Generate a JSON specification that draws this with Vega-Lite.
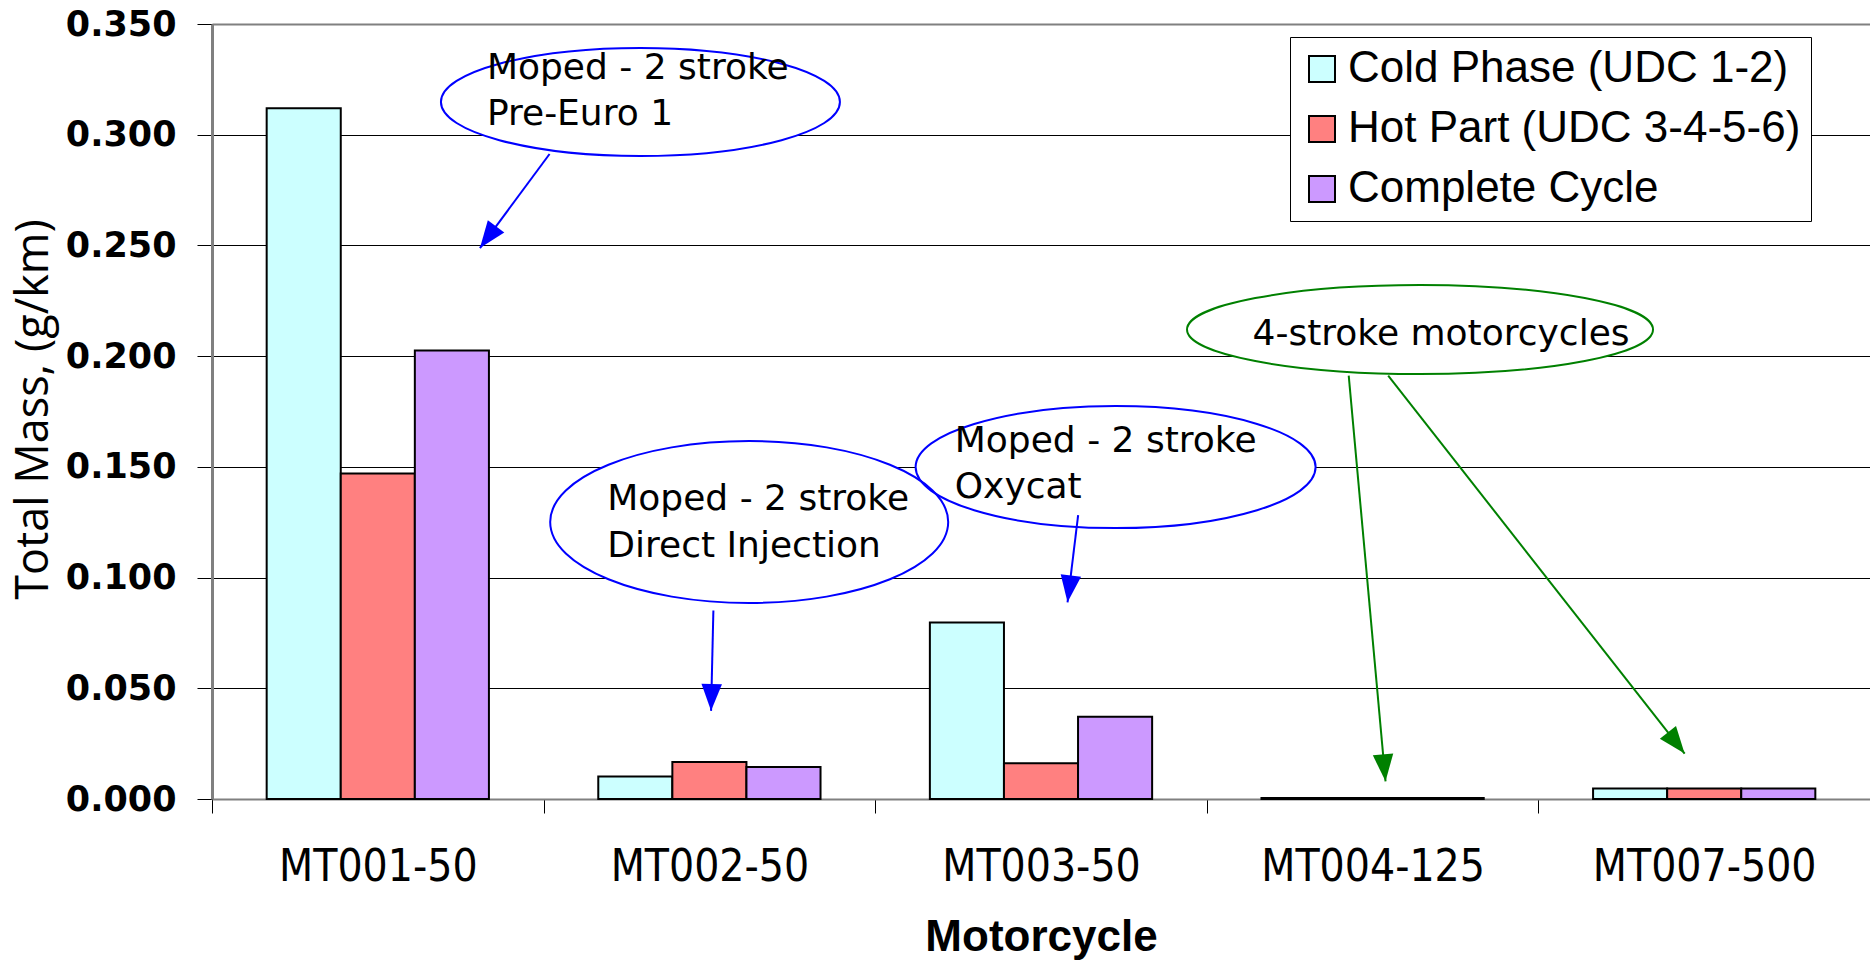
{
  "$schema": "https://vega.github.io/schema/vega-lite/v6.json",
  "width": 1658,
  "height": 775,
  "autosize": {"type": "none"},
  "padding": {"left": 212, "top": 24, "right": 0, "bottom": 166},
  "background": "white",
  "config": {"view": {"stroke": null}},
  "datasets": {
    "emissions": [
      {"motorcycle": "MT001-50", "phase": "Cold Phase (UDC 1-2)", "mass": 0.312},
      {"motorcycle": "MT001-50", "phase": "Hot Part (UDC 3-4-5-6)", "mass": 0.147},
      {"motorcycle": "MT001-50", "phase": "Complete Cycle", "mass": 0.2025},
      {"motorcycle": "MT002-50", "phase": "Cold Phase (UDC 1-2)", "mass": 0.0102},
      {"motorcycle": "MT002-50", "phase": "Hot Part (UDC 3-4-5-6)", "mass": 0.0167},
      {"motorcycle": "MT002-50", "phase": "Complete Cycle", "mass": 0.0145},
      {"motorcycle": "MT003-50", "phase": "Cold Phase (UDC 1-2)", "mass": 0.0797},
      {"motorcycle": "MT003-50", "phase": "Hot Part (UDC 3-4-5-6)", "mass": 0.0161},
      {"motorcycle": "MT003-50", "phase": "Complete Cycle", "mass": 0.0371},
      {"motorcycle": "MT004-125", "phase": "Cold Phase (UDC 1-2)", "mass": 0.0004},
      {"motorcycle": "MT004-125", "phase": "Hot Part (UDC 3-4-5-6)", "mass": 0.0004},
      {"motorcycle": "MT004-125", "phase": "Complete Cycle", "mass": 0.0004},
      {"motorcycle": "MT007-500", "phase": "Cold Phase (UDC 1-2)", "mass": 0.0047},
      {"motorcycle": "MT007-500", "phase": "Hot Part (UDC 3-4-5-6)", "mass": 0.0047},
      {"motorcycle": "MT007-500", "phase": "Complete Cycle", "mass": 0.0047}
    ],
    "callouts": [
      {"id": "pre-euro", "u": 1.292, "v": 0.3148},
      {"id": "direct-injection", "u": 1.62, "v": 0.1251},
      {"id": "oxycat", "u": 2.725, "v": 0.1499},
      {"id": "four-stroke", "u": 3.643, "v": 0.212}
    ],
    "arrows": [
      {"id": "A1", "kind": "moped", "u": 1.018, "v": 0.2913, "u2": 0.808, "v2": 0.2488},
      {"id": "A2", "kind": "moped", "u": 1.512, "v": 0.0851, "u2": 1.505, "v2": 0.0398},
      {"id": "A3", "kind": "moped", "u": 2.612, "v": 0.1282, "u2": 2.58, "v2": 0.0888},
      {"id": "A4", "kind": "motorcycle", "u": 3.428, "v": 0.1912, "u2": 3.539, "v2": 0.008},
      {"id": "A5", "kind": "motorcycle", "u": 3.547, "v": 0.1912, "u2": 4.441, "v2": 0.0205}
    ],
    "captions": [
      {"u": 0.829, "v": 0.3252, "line": "Moped - 2 stroke"},
      {"u": 0.829, "v": 0.3044, "line": "Pre-Euro 1"},
      {"u": 1.192, "v": 0.1305, "line": "Moped - 2 stroke"},
      {"u": 1.192, "v": 0.1093, "line": "Direct Injection"},
      {"u": 2.24, "v": 0.1567, "line": "Moped - 2 stroke"},
      {"u": 2.24, "v": 0.1359, "line": "Oxycat"},
      {"u": 3.138, "v": 0.205, "line": "4-stroke motorcycles"}
    ]
  },
  "layer": [
    {
      "data": {"name": "emissions"},
      "mark": {"type": "bar", "stroke": "black", "strokeWidth": 2},
      "encoding": {
        "x": {
          "field": "motorcycle", "type": "nominal", "sort": null,
          "scale": {"paddingInner": 0, "paddingOuter": 0},
          "axis": {
            "title": "Motorcycle", "titleFont": "Liberation Sans", "titleFontSize": 44,
            "titleFontWeight": "bold", "titleColor": "black", "titleY": 151, "titleBaseline": "alphabetic",
            "labelFont": "Liberation Sans Narrow, DejaVu Sans Condensed, sans-serif", "labelFontSize": 44,
            "labelFontWeight": "normal",
            "labelColor": "black", "labelAngle": 0, "labelBaseline": "alphabetic", "labelPadding": 67,
            "labelLimit": 400,
            "tickBand": "extent", "tickSize": 14, "tickColor": "black", "tickWidth": 1,
            "domainColor": "#808080", "domainWidth": 2, "grid": false
          }
        },
        "xOffset": {
          "field": "phase", "type": "nominal",
          "scale": {"domain": ["Cold Phase (UDC 1-2)", "Hot Part (UDC 3-4-5-6)", "Complete Cycle"], "paddingInner": 0, "paddingOuter": 0.738}
        },
        "y": {
          "field": "mass", "type": "quantitative",
          "scale": {"domain": [0, 0.35], "nice": false},
          "axis": {
            "values": [0, 0.05, 0.1, 0.15, 0.2, 0.25, 0.3, 0.35], "format": ".3f",
            "labelFont": "DejaVu Sans", "labelFontSize": 35, "labelFontWeight": "bold", "labelColor": "black", "labelPadding": 21,
            "tickSize": 15, "tickColor": "black", "tickWidth": 1,
            "domainColor": "#808080", "domainWidth": 3,
            "grid": true,
            "gridColor": {"condition": {"test": "datum.value > 0.34", "value": "#808080"}, "value": "black"},
            "gridWidth": {"condition": {"test": "datum.value > 0.34", "value": 2}, "value": 1},
            "title": "Total Mass, (g/km)", "titleFont": "Open Sans", "titleFontSize": 45,
            "titleFontWeight": "normal", "titleColor": "black", "titleAngle": -90,
            "titleX": -165, "titleY": 385, "titleAlign": "center", "titleBaseline": "alphabetic"
          }
        },
        "fill": {
          "field": "phase", "type": "nominal",
          "scale": {
            "domain": ["Cold Phase (UDC 1-2)", "Hot Part (UDC 3-4-5-6)", "Complete Cycle"],
            "range": ["#CCFFFF", "#FF8080", "#CC99FF"]
          },
          "legend": {
            "orient": "none", "legendX": 1078, "legendY": 13, "title": null,
            "fillColor": "white", "strokeColor": "black", "padding": 10,
            "symbolType": "square", "symbolSize": 676, "symbolStrokeColor": "black", "symbolStrokeWidth": 2,
            "symbolOpacity": 1,
            "labelFont": "Liberation Sans", "labelFontSize": 44, "labelColor": "black",
            "labelOffset": 4, "rowPadding": 16, "labelLimit": 700
          }
        }
      }
    },
    {
      "encoding": {
        "x": {"field": "u", "type": "quantitative", "scale": {"domain": [0, 5], "nice": false, "zero": false}, "axis": null},
        "y": {"field": "v", "type": "quantitative", "scale": {"domain": [0, 0.35], "nice": false}, "axis": null}
      },
      "layer": [
        {
          "data": {"name": "callouts"},
          "transform": [{"filter": "datum.id === 'pre-euro'"}],
          "mark": {"type": "point", "filled": true, "fill": "white", "opacity": 1, "size": 159201,
            "shape": "M1,0 C1,0.1497 0.5523,0.271 0,0.271 C-0.5523,0.271 -1,0.1497 -1,0 C-1,-0.1497 -0.5523,-0.271 0,-0.271 C0.5523,-0.271 1,-0.1497 1,0 Z"}
        },
        {
          "data": {"name": "callouts"},
          "transform": [{"filter": "datum.id === 'direct-injection'"}],
          "mark": {"type": "point", "filled": true, "fill": "white", "opacity": 1, "size": 158404,
            "shape": "M1,0 C1,0.2248 0.5523,0.407 0,0.407 C-0.5523,0.407 -1,0.2248 -1,0 C-1,-0.2248 -0.5523,-0.407 0,-0.407 C0.5523,-0.407 1,-0.2248 1,0 Z"}
        },
        {
          "data": {"name": "callouts"},
          "transform": [{"filter": "datum.id === 'oxycat'"}],
          "mark": {"type": "point", "filled": true, "fill": "white", "opacity": 1, "size": 160000,
            "shape": "M1,0 C1,0.1684 0.5523,0.305 0,0.305 C-0.5523,0.305 -1,0.1684 -1,0 C-1,-0.1684 -0.5523,-0.305 0,-0.305 C0.5523,-0.305 1,-0.1684 1,0 Z"}
        },
        {
          "data": {"name": "callouts"},
          "transform": [{"filter": "datum.id === 'four-stroke'"}],
          "mark": {"type": "point", "filled": true, "fill": "white", "opacity": 1, "size": 217156,
            "shape": "M1,0 C1,0.1055 0.5523,0.191 0,0.191 C-0.5523,0.191 -1,0.1055 -1,0 C-1,-0.1055 -0.5523,-0.191 0,-0.191 C0.5523,-0.191 1,-0.1055 1,0 Z"}
        },
        {
          "data": {"name": "callouts"},
          "transform": [{"filter": "datum.id === 'pre-euro'"}],
          "mark": {"type": "point", "filled": false, "stroke": "#0000FF", "strokeWidth": 2, "opacity": 1, "size": 159201,
            "shape": "M1,0 C1,0.1497 0.5523,0.271 0,0.271 C-0.5523,0.271 -1,0.1497 -1,0 C-1,-0.1497 -0.5523,-0.271 0,-0.271 C0.5523,-0.271 1,-0.1497 1,0 Z"}
        },
        {
          "data": {"name": "callouts"},
          "transform": [{"filter": "datum.id === 'direct-injection'"}],
          "mark": {"type": "point", "filled": false, "stroke": "#0000FF", "strokeWidth": 2, "opacity": 1, "size": 158404,
            "shape": "M1,0 C1,0.2248 0.5523,0.407 0,0.407 C-0.5523,0.407 -1,0.2248 -1,0 C-1,-0.2248 -0.5523,-0.407 0,-0.407 C0.5523,-0.407 1,-0.2248 1,0 Z"}
        },
        {
          "data": {"name": "callouts"},
          "transform": [{"filter": "datum.id === 'oxycat'"}],
          "mark": {"type": "point", "filled": false, "stroke": "#0000FF", "strokeWidth": 2, "opacity": 1, "size": 160000,
            "shape": "M1,0 C1,0.1684 0.5523,0.305 0,0.305 C-0.5523,0.305 -1,0.1684 -1,0 C-1,-0.1684 -0.5523,-0.305 0,-0.305 C0.5523,-0.305 1,-0.1684 1,0 Z"}
        },
        {
          "data": {"name": "callouts"},
          "transform": [{"filter": "datum.id === 'four-stroke'"}],
          "mark": {"type": "point", "filled": false, "stroke": "#008000", "strokeWidth": 2, "opacity": 1, "size": 217156,
            "shape": "M1,0 C1,0.1055 0.5523,0.191 0,0.191 C-0.5523,0.191 -1,0.1055 -1,0 C-1,-0.1055 -0.5523,-0.191 0,-0.191 C0.5523,-0.191 1,-0.1055 1,0 Z"}
        },
        {
          "data": {"name": "arrows"},
          "transform": [{"filter": "datum.kind === 'moped'"}],
          "mark": {"type": "rule", "stroke": "#0000FF", "strokeWidth": 2},
          "encoding": {"x2": {"field": "u2"}, "y2": {"field": "v2"}}
        },
        {
          "data": {"name": "arrows"},
          "transform": [{"filter": "datum.kind === 'motorcycle'"}],
          "mark": {"type": "rule", "stroke": "#008000", "strokeWidth": 2},
          "encoding": {"x2": {"field": "u2"}, "y2": {"field": "v2"}}
        },
        {
          "data": {"name": "arrows"},
          "transform": [{"filter": "datum.id === 'A1'"}],
          "mark": {"type": "point", "filled": true, "fill": "#0000FF", "opacity": 1, "size": 2916, "angle": 216.7, "shape": "M0,0 L-0.38,1 L0.38,1 Z"},
          "encoding": {
            "x": {"field": "u2", "type": "quantitative", "scale": {"domain": [0, 5], "nice": false, "zero": false}, "axis": null},
            "y": {"field": "v2", "type": "quantitative", "scale": {"domain": [0, 0.35], "nice": false}, "axis": null}
          }
        },
        {
          "data": {"name": "arrows"},
          "transform": [{"filter": "datum.id === 'A2'"}],
          "mark": {"type": "point", "filled": true, "fill": "#0000FF", "opacity": 1, "size": 2916, "angle": 181.4, "shape": "M0,0 L-0.38,1 L0.38,1 Z"},
          "encoding": {
            "x": {"field": "u2", "type": "quantitative", "scale": {"domain": [0, 5], "nice": false, "zero": false}, "axis": null},
            "y": {"field": "v2", "type": "quantitative", "scale": {"domain": [0, 0.35], "nice": false}, "axis": null}
          }
        },
        {
          "data": {"name": "arrows"},
          "transform": [{"filter": "datum.id === 'A3'"}],
          "mark": {"type": "point", "filled": true, "fill": "#0000FF", "opacity": 1, "size": 2916, "angle": 187.1, "shape": "M0,0 L-0.38,1 L0.38,1 Z"},
          "encoding": {
            "x": {"field": "u2", "type": "quantitative", "scale": {"domain": [0, 5], "nice": false, "zero": false}, "axis": null},
            "y": {"field": "v2", "type": "quantitative", "scale": {"domain": [0, 0.35], "nice": false}, "axis": null}
          }
        },
        {
          "data": {"name": "arrows"},
          "transform": [{"filter": "datum.id === 'A4'"}],
          "mark": {"type": "point", "filled": true, "fill": "#008000", "opacity": 1, "size": 2916, "angle": 174.7, "shape": "M0,0 L-0.38,1 L0.38,1 Z"},
          "encoding": {
            "x": {"field": "u2", "type": "quantitative", "scale": {"domain": [0, 5], "nice": false, "zero": false}, "axis": null},
            "y": {"field": "v2", "type": "quantitative", "scale": {"domain": [0, 0.35], "nice": false}, "axis": null}
          }
        },
        {
          "data": {"name": "arrows"},
          "transform": [{"filter": "datum.id === 'A5'"}],
          "mark": {"type": "point", "filled": true, "fill": "#008000", "opacity": 1, "size": 2916, "angle": 141.75, "shape": "M0,0 L-0.38,1 L0.38,1 Z"},
          "encoding": {
            "x": {"field": "u2", "type": "quantitative", "scale": {"domain": [0, 5], "nice": false, "zero": false}, "axis": null},
            "y": {"field": "v2", "type": "quantitative", "scale": {"domain": [0, 0.35], "nice": false}, "axis": null}
          }
        },
        {
          "data": {"name": "captions"},
          "mark": {"type": "text", "font": "DejaVu Sans", "fontSize": 36, "fontWeight": "normal", "align": "left", "baseline": "alphabetic", "color": "black"},
          "encoding": {"text": {"field": "line", "type": "nominal"}}
        }
      ]
    }
  ],
  "resolve": {"scale": {"x": "independent", "y": "independent"}, "axis": {"x": "independent", "y": "independent"}}
}
